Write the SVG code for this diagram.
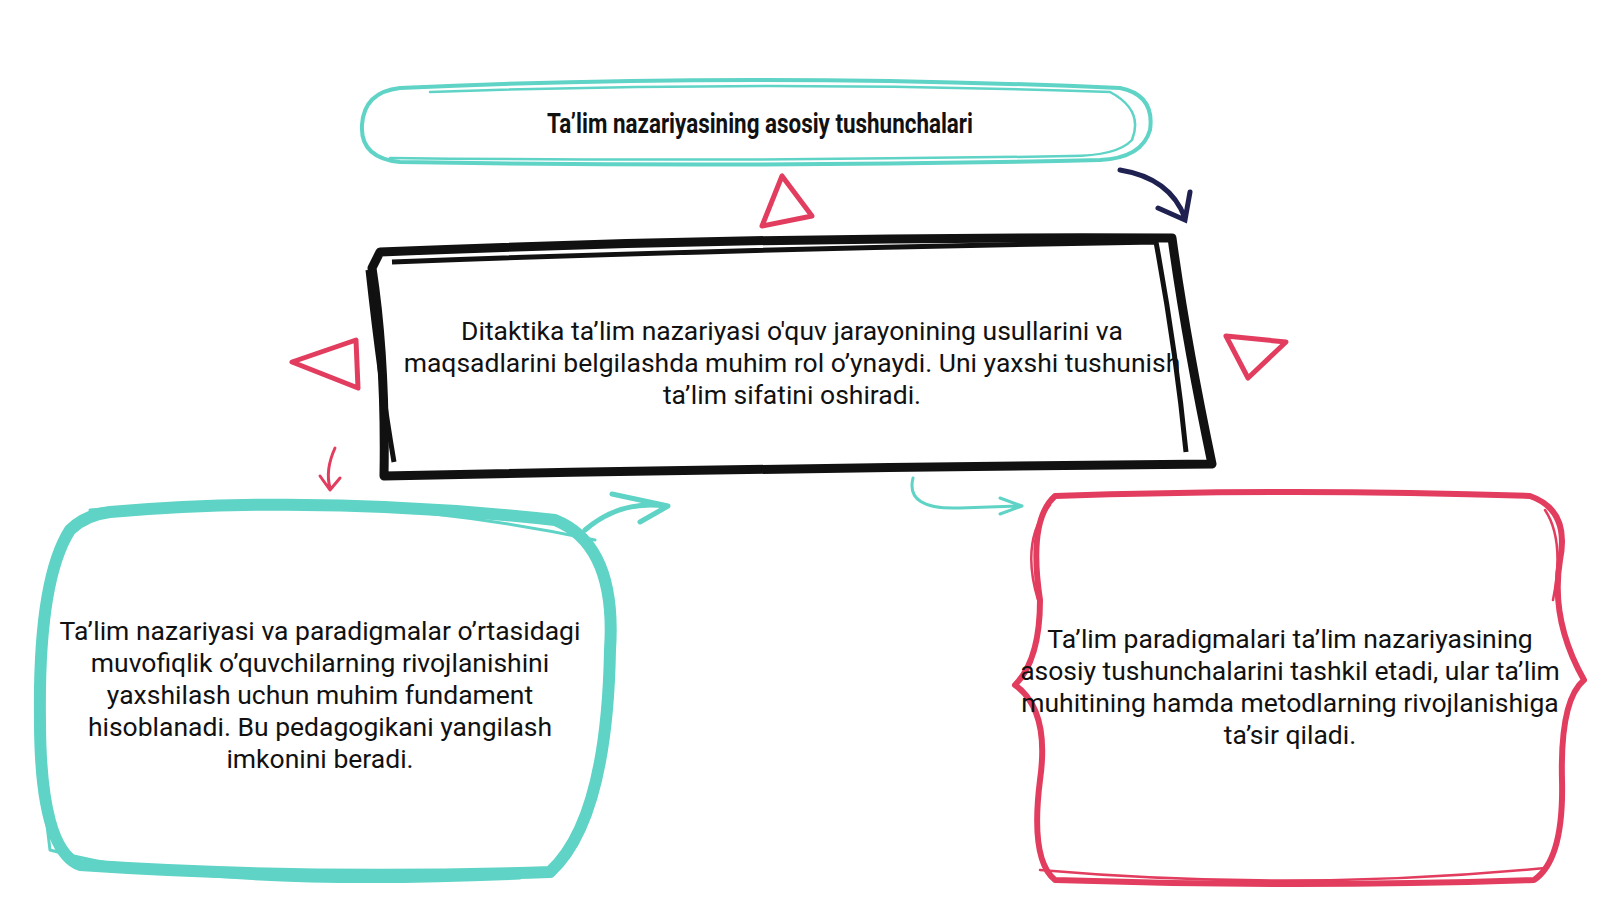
<svg xmlns="http://www.w3.org/2000/svg" width="1600" height="900" viewBox="0 0 1600 900">
<style>
.t{font-family:Roboto,"Liberation Sans",sans-serif;font-size:26.5px;fill:#111;text-anchor:middle}
.h{font-family:"Liberation Sans Narrow","Roboto",sans-serif;font-weight:bold;font-size:27px;fill:#111;text-anchor:middle}
.teal{fill:none;stroke:#5ed3c6;stroke-linecap:round;stroke-linejoin:round}
.red{fill:none;stroke:#e23d5e;stroke-linecap:round;stroke-linejoin:round}
.tri{fill:none;stroke:#e23d5e;stroke-width:5;stroke-linejoin:round}
</style>
<rect width="1600" height="900" fill="#fff"/>
<g id="title">
<path class="teal" stroke-width="4" d="M400 88 Q750 72 1120 88 Q1155 95 1150 130 Q1142 158 1100 160 Q750 168 400 162 Q360 158 362 125 Q364 92 400 88 Z"/>
<path class="teal" stroke-width="2.5" d="M430 92 Q770 80 1110 92 Q1144 110 1132 140 Q1117 156 1070 156 Q730 162 390 158"/>
<text class="h" x="760" y="133" textLength="426" lengthAdjust="spacingAndGlyphs">Ta’lim nazariyasining asosiy tushunchalari</text>
</g>
<g id="center">
<path fill="none" stroke="#111" stroke-width="9" stroke-linejoin="round" d="M380 252 Q765 236 1172 238 Q1186 340 1212 464 Q780 468 384 476 Q386 360 372 268 Z"/>
<path fill="none" stroke="#111" stroke-width="5" d="M392 262 Q765 248 1156 242 Q1176 350 1186 452 M368 270 Q380 380 394 462"/>
<text class="t" x="792" y="340">Ditaktika ta’lim nazariyasi o'quv jarayonining usullarini va</text>
<text class="t" x="792" y="372">maqsadlarini belgilashda muhim rol o’ynaydi. Uni yaxshi tushunish</text>
<text class="t" x="792" y="404">ta’lim sifatini oshiradi.</text>
</g>
<g id="left">
<path class="teal" stroke-width="12" d="M110 512 Q320 494 555 520 Q617 545 610 650 Q607 820 550 872 Q300 880 80 865 Q40 850 40 720 Q38 580 70 530 Q85 515 110 512 Z"/>
<path class="teal" stroke-width="3" d="M60 540 Q30 700 50 850 Q200 892 520 878 M90 510 Q350 488 595 540"/>
<text class="t" x="320" y="640">Ta’lim nazariyasi va paradigmalar o’rtasidagi</text>
<text class="t" x="320" y="672">muvofiqlik o’quvchilarning rivojlanishini</text>
<text class="t" x="320" y="704">yaxshilash uchun muhim fundament</text>
<text class="t" x="320" y="736">hisoblanadi. Bu pedagogikani yangilash</text>
<text class="t" x="320" y="768">imkonini beradi.</text>
</g>
<g id="right">
<path class="red" stroke-width="6" d="M1055 496 Q1295 488 1530 496 Q1570 510 1560 560 Q1550 620 1584 680 Q1560 700 1562 780 Q1564 860 1534 880 Q1295 888 1055 880 Q1030 860 1040 780 Q1050 710 1015 685 Q1040 660 1040 600 Q1028 520 1055 496 Z"/>
<path class="red" stroke-width="2.5" d="M1050 505 Q1020 540 1038 600 M1545 510 Q1565 540 1553 600 M1040 870 Q1295 892 1545 868"/>
<text class="t" x="1290" y="648">Ta’lim paradigmalari ta’lim nazariyasining</text>
<text class="t" x="1290" y="680">asosiy tushunchalarini tashkil etadi, ular ta’lim</text>
<text class="t" x="1290" y="712">muhitining hamda metodlarning rivojlanishiga</text>
<text class="t" x="1290" y="744">ta’sir qiladi.</text>
</g>
<g id="connectors">
<path fill="none" stroke="#1f2150" stroke-width="5" stroke-linecap="round" d="M1120 170 Q1170 178 1185 218 M1158 208 L1185 220 L1190 192"/>
<path class="tri" d="M782 176 L762 226 L812 216 Z"/>
<path class="tri" d="M292 362 L356 340 L358 388 Z"/>
<path class="tri" d="M1226 336 L1286 342 L1248 378 Z"/>
<path class="red" stroke-width="3" d="M335 448 Q325 470 330 488 M320 476 L330 490 L340 478"/>
<path class="teal" stroke-width="5" d="M585 530 Q620 500 665 506 M612 494 L668 506 L640 522"/>
<path class="teal" stroke-width="3" d="M913 478 Q905 510 960 508 L1020 506 M1000 498 L1022 506 L1000 514"/>
</g>
</svg>
